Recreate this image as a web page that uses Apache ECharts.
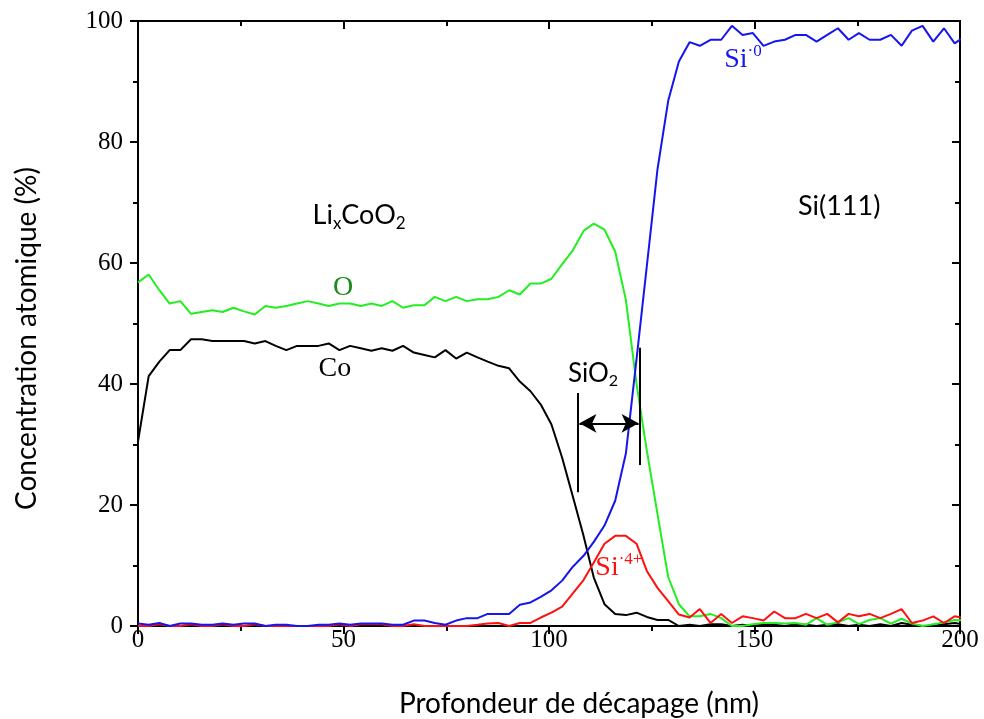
<!DOCTYPE html>
<html>
<head>
<meta charset="utf-8">
<script src="https://cdn.jsdelivr.net/npm/echarts@6/dist/echarts.min.js"></script>
<style>
html,body{margin:0;padding:0;background:#fff;}
#c{width:984px;height:719px;}
</style>
</head>
<body>
<div id="c"></div>
<script>
// Depth (nm)
const depth = [0, 2.6, 5.2, 7.7, 10.3, 12.9, 15.5, 18.1, 20.6, 23.2, 25.8, 28.4, 31.0, 33.5, 36.1, 38.7, 41.3, 43.9, 46.4, 49.0,
  51.6, 54.2, 56.8, 59.3, 61.9, 64.5, 67.1, 69.7, 72.2, 74.8, 77.4, 80.0, 82.6, 85.1, 87.7, 90.3, 92.9, 95.5, 98.0, 100.6,
  103.2, 105.8, 108.4, 110.9, 113.5, 116.1, 118.7, 121.3, 123.8, 126.4, 129.0, 131.6, 134.2, 136.7, 139.3, 141.9, 144.5, 147.1, 149.6, 152.2,
  154.8, 157.4, 160.0, 162.5, 165.1, 167.7, 170.3, 172.9, 175.4, 178.0, 180.6, 183.2, 185.8, 188.3, 190.9, 193.5, 196.1, 198.7, 201.2];

// Co (black)
const co = [30.5, 41.3, 43.7, 45.6, 45.6, 47.4, 47.4, 47.1, 47.1, 47.1, 47.1, 46.7, 47.1, 46.3, 45.6, 46.3, 46.3, 46.3, 46.7, 45.6,
  46.3, 45.9, 45.5, 45.9, 45.5, 46.3, 45.2, 44.8, 44.4, 45.6, 44.2, 45.2, 44.4, 43.7, 43.0, 42.6, 40.4, 38.8, 36.6, 33.3,
  27.8, 21.4, 14.9, 8.0, 3.6, 2.0, 1.8, 2.2, 1.5, 1.0, 1.0, 0.0, 0.2, 0.0, 0.3, 0.3, 0.0, 0.2, 0.0, 0.3,
  0.2, 0.0, 0.3, 0.2, 0.0, 0.2, 0.3, 0.0, 0.2, 0.0, 0.3, 0.0, 0.5, 0.2, 0.0, 0.0, 0.3, 0.5, 0.2];

// O (green)
const ox = [56.8, 58.1, 55.5, 53.3, 53.7, 51.6, 51.9, 52.2, 51.9, 52.6, 52.0, 51.5, 52.9, 52.6, 52.9, 53.3, 53.7, 53.3, 52.9, 53.3,
  53.3, 52.9, 53.3, 52.9, 53.7, 52.6, 53.0, 53.0, 54.4, 53.7, 54.4, 53.7, 54.0, 54.0, 54.4, 55.5, 54.8, 56.6, 56.6, 57.4,
  59.8, 62.1, 65.3, 66.5, 65.5, 61.9, 53.9, 40.0, 29.0, 18.5, 8.1, 3.6, 1.6, 1.6, 2.0, 1.3, 0.0, 0.0, 0.3, 0.5,
  0.5, 0.4, 0.5, 0.2, 1.3, 0.2, 0.6, 1.3, 0.3, 1.0, 1.3, 0.4, 1.2, 0.4, 0.0, 0.3, 0.6, 1.0, 0.9];

// Si4+ (red)
const si4 = [0, 0, 0.3, 0, 0, 0.3, 0, 0, 0.3, 0, 0, 0.3, 0, 0, 0, 0, 0, 0, 0, 0.3,
  0, 0.3, 0.3, 0.3, 0, 0, 0.3, 0, 0, 0, 0, 0, 0.2, 0.4, 0.5, 0, 0.5, 0.5, 1.4, 2.2,
  3.2, 5.4, 7.6, 10.5, 13.6, 14.9, 14.9, 13.6, 9.1, 6.3, 4.1, 1.9, 1.4, 2.8, 0.5, 2.0, 0.5, 1.6, 1.3, 0.9,
  2.4, 1.3, 1.3, 2.0, 1.3, 2.0, 0.6, 2.0, 1.6, 2.0, 1.3, 2.0, 2.8, 0.5, 0.9, 1.6, 0.5, 1.6, 1.3];

// Si0 (blue)
const si0 = [0.4, 0.2, 0.5, 0, 0.4, 0.4, 0.2, 0.2, 0.4, 0.2, 0.4, 0.4, 0, 0.2, 0.2, 0, 0, 0.2, 0.2, 0.4,
  0.2, 0.4, 0.4, 0.4, 0.2, 0.2, 0.9, 0.9, 0.5, 0.2, 0.9, 1.3, 1.3, 2.0, 2.0, 2.0, 3.5, 3.9, 4.8, 5.9,
  7.5, 9.8, 11.6, 13.9, 16.6, 20.7, 28.5, 44.1, 59.5, 75.5, 86.8, 93.3, 96.5, 95.9, 96.9, 96.9, 99.2, 97.7, 98.0, 95.9,
  96.6, 96.9, 97.7, 97.7, 96.6, 97.7, 98.8, 96.9, 98.0, 96.9, 96.9, 97.7, 95.9, 98.4, 99.2, 96.6, 98.8, 96.3, 97.5];

const xTicks = [0, 50, 100, 150, 200];
const yTicks = [0, 20, 40, 60, 80, 100];

function pairs(ys){ return depth.map((d,i)=>[d, ys[i]]); }

const chart = echarts.init(document.getElementById('c'), null, {renderer:'canvas'});

const serif = 'Liberation Serif';
const sans = 'Lato';
const axisLine = {onZero:false, lineStyle:{color:'#000', width:2}};

function mkX(pos, inside, labels){
  return {
    type:'value', position:pos, min:xTicks[0], max:xTicks[xTicks.length-1], interval:50,
    axisLine:axisLine,
    axisTick:{show:true, inside:inside, length:8, lineStyle:{color:'#000', width:2}},
    minorTick:{show:true, splitNumber:2, length:5, lineStyle:{color:'#000', width:2}},
    splitLine:{show:false},
    axisLabel:{show:labels, fontFamily:serif, fontSize:25, color:'#000', margin:2},
    name: labels ? 'Profondeur de décapage (nm)' : '',
    nameLocation:'middle', nameGap:64,
    nameTextStyle:{fontFamily:sans, fontSize:28, color:'#000', padding:[0,0,0,60]}
  };
}
function mkY(pos, inside, labels){
  return {
    type:'value', position:pos, min:yTicks[0], max:yTicks[yTicks.length-1], interval:20,
    axisLine:axisLine,
    axisTick:{show:true, inside:inside, length:8, lineStyle:{color:'#000', width:2}},
    minorTick:{show:true, splitNumber:2, length:5, lineStyle:{color:'#000', width:2}},
    splitLine:{show:false},
    axisLabel:{show:labels, fontFamily:serif, fontSize:25, color:'#000', margin:15},
    name: labels ? 'Concentration atomique (%)' : '',
    nameLocation:'middle', nameGap:97, nameRotate:90,
    nameTextStyle:{fontFamily:sans, fontSize:28, color:'#000', padding:[0,30,0,0]}
  };
}

const lw = 2;
const option = {
  animation:false,
  backgroundColor:'#fff',
  grid:{left:138, right:24, top:21, bottom:93, containLabel:false, outerBoundsMode:'none'},
  xAxis:[mkX('bottom', false, true), mkX('top', true, false)],
  yAxis:[mkY('left', false, true), mkY('right', true, false)],
  series:[
    {name:'Co', type:'line', data:pairs(co), showSymbol:false, symbol:'none', silent:true,
     lineStyle:{color:'#000', width:lw}, itemStyle:{color:'#000'},
     markLine:{silent:true, animation:false, symbol:['none','none'], label:{show:false},
       lineStyle:{color:'#000', width:2, type:'solid'},
       data:[
         [{coord:[107.1,38.5]},{coord:[107.1,22.1]}],
         [{coord:[122.1,46.0]},{coord:[122.1,26.6]}],
         [{coord:[107.4,33.5], symbol:'arrow', symbolSize:[14,17]},{coord:[121.8,33.5], symbol:'arrow', symbolSize:[14,17]}]
       ]}},
    {name:'O', type:'line', data:pairs(ox), showSymbol:false, symbol:'none', silent:true,
     lineStyle:{color:'#22ee22', width:lw}},
    {name:'Si4+', type:'line', data:pairs(si4), showSymbol:false, symbol:'none', silent:true,
     lineStyle:{color:'#ff1010', width:lw}},
    {name:'Si0', type:'line', data:pairs(si0), showSymbol:false, symbol:'none', silent:true,
     lineStyle:{color:'#1515ee', width:lw}}
  ]
};
chart.setOption(option);

// Annotations (data coordinates)
const notes = [
  {at:[53.8, 67.9], text:'{a|Li}{s|x}{a|CoO}{s|2}', font:sans, size:27, color:'#000'},
  {at:[170.6, 69.3], text:'{a|Si(111)}', font:sans, size:27, color:'#000'},
  {at:[49.9, 56.0], text:'{a|O}', font:serif, size:28, color:'#1a8a1a'},
  {at:[47.9, 42.6], text:'{a|Co}', font:serif, size:28, color:'#000'},
  {at:[110.7, 41.8], text:'{a|SiO}{s|2}', font:sans, size:26, color:'#000'},
  {at:[147.2, 93.6], text:'{a|Si}{p|·0}', font:serif, size:28, color:'#1515ee'},
  {at:[117.0, 9.6], text:'{a|Si}{p|·4+}', font:serif, size:28, color:'#ff1010'}
];
const graphics = notes.map(n=>{
  const p = chart.convertToPixel({gridIndex:0}, n.at);
  const small = Math.round(n.size*0.62);
  return {
    type:'text', x:p[0], y:p[1], silent:true,
    style:{
      text:n.text, align:'center', verticalAlign:'middle',
      fill:n.color, font: n.size+'px "'+n.font+'"',
      rich:{
        a:{fontFamily:n.font, fontSize:n.size, lineHeight:n.size+6, fill:n.color, verticalAlign:'middle'},
        s:{fontFamily:n.font, fontSize:small, lineHeight:8, fill:n.color, verticalAlign:'bottom'},
        p:{fontFamily:n.font, fontSize:small, lineHeight:10, fill:n.color, verticalAlign:'top'}
      }
    }
  };
});
chart.setOption({graphic:graphics});
</script>
</body>
</html>
